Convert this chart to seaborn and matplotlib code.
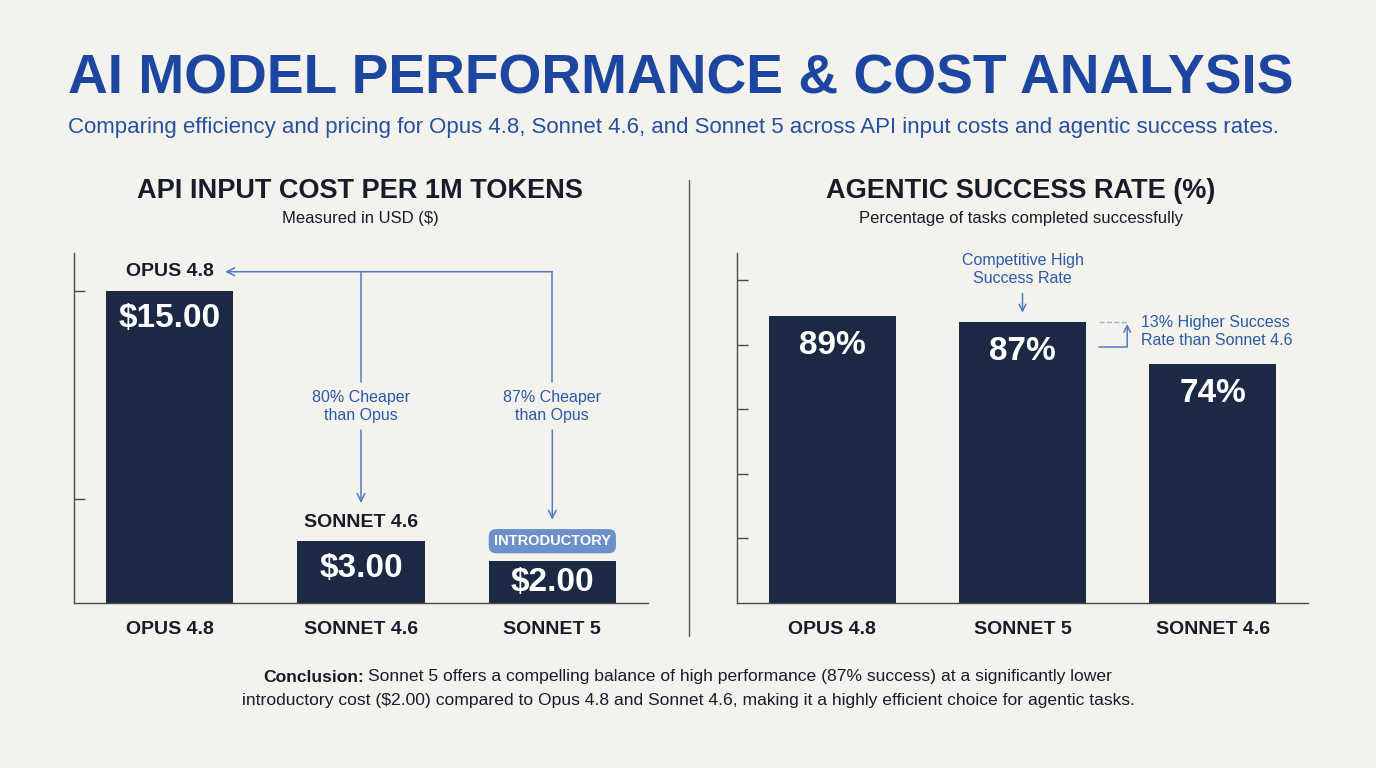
import numpy  as np
import pandas as pd

import matplotlib.pyplot as plt
import seaborn           as sns

# ================================================================================
# Data
# ================================================================================
cost_models  = ["OPUS 4.8", "SONNET 4.6", "SONNET 5"]
cost_usd     = [15.00, 3.00, 2.00]
cost_labels  = ["$15.00", "$3.00", "$2.00"]
cheaper_text = ["80% Cheaper\nthan Opus", "87% Cheaper\nthan Opus"]

rate_models  = ["OPUS 4.8", "SONNET 5", "SONNET 4.6"]
success_pct  = [89, 87, 74]
rate_labels  = ["89%", "87%", "74%"]

title    = "AI MODEL PERFORMANCE & COST ANALYSIS"
subtitle = ("Comparing efficiency and pricing for Opus 4.8, Sonnet 4.6, and Sonnet 5 "
            "across API input costs and agentic success rates.")
concl_b  = "Conclusion:"
concl_1  = "Sonnet 5 offers a compelling balance of high performance (87% success) at a significantly lower"
concl_2  = ("introductory cost ($2.00) compared to Opus 4.8 and Sonnet 4.6, "
            "making it a highly efficient choice for agentic tasks.")

# ================================================================================
# Style
# ================================================================================
BG     = "#f3f2ec"
NAVY   = "#1b2944"
BLUE   = "#1d46a0"
ACCENT = "#4f7cc2"
BADGE  = "#6d8fca"
INK    = "#171c2b"
SPINE  = "#4a4a4a"

sns.set_theme(style="white", rc={"axes.facecolor": BG, "figure.facecolor": BG})
plt.rcParams["font.family"] = ["Liberation Sans", "DejaVu Sans"]

W, H = 1376, 768
fig = plt.figure(figsize=(W / 100, H / 100), dpi=100)

def fx(px): return px / W
def fy(py): return 1 - py / H

# --------------------------------------------------------------------------------
# Header
# --------------------------------------------------------------------------------
fig.text(fx(68), fy(80), title, ha="left", va="center", fontsize=39.7,
         fontweight="bold", color=BLUE)
fig.text(fx(68), fy(127), subtitle, ha="left", va="center", fontsize=16, color="#24509f")

# Panel titles
fig.text(fx(360), fy(191), "API INPUT COST PER 1M TOKENS", ha="center", va="center",
         fontsize=19.5, fontweight="bold", color=INK)
fig.text(fx(360), fy(219), "Measured in USD ($)", ha="center", va="center",
         fontsize=12, color=INK)
fig.text(fx(1021), fy(191), "AGENTIC SUCCESS RATE (%)", ha="center", va="center",
         fontsize=19.5, fontweight="bold", color=INK)
fig.text(fx(1021), fy(219), "Percentage of tasks completed successfully", ha="center",
         va="center", fontsize=12, color=INK)

# Divider
fig.add_artist(plt.Line2D([fx(689), fx(689)], [fy(180), fy(636)], color="#555555", lw=1))

# ================================================================================
# Axes
# ================================================================================
ax1 = fig.add_axes([fx(74), fy(603), 574 / W, 350 / H])
ax2 = fig.add_axes([fx(737), fy(603), 571 / W, 350 / H])

df_cost = pd.DataFrame({"model": cost_models, "usd": cost_usd})
df_rate = pd.DataFrame({"model": rate_models, "pct": success_pct})

sns.barplot(data=df_cost, x="model", y="usd", color=NAVY, saturation=1, width=0.667,
            linewidth=0, ax=ax1)
sns.barplot(data=df_rate, x="model", y="pct", color=NAVY, saturation=1, width=0.667,
            linewidth=0, ax=ax2)

for ax, ymax, ticks in [(ax1, 16.8, [5, 15]), (ax2, 108.5, [20, 40, 60, 80, 100])]:
    ax.set_xlim(-0.5, 2.5)
    ax.set_ylim(0, ymax)
    ax.set_yticks(ticks)
    ax.set_yticklabels([])
    ax.set_xlabel("")
    ax.set_ylabel("")
    sns.despine(ax=ax)
    for s in ["left", "bottom"]:
        ax.spines[s].set_color(SPINE)
        ax.spines[s].set_linewidth(1)
    ax.tick_params(axis="y", direction="in", length=8, width=1, color=SPINE, left=True)
    ax.tick_params(axis="x", length=0, pad=13)
    for lab in ax.get_xticklabels():
        lab.set_fontsize(14)
        lab.set_fontweight("bold")
        lab.set_color(INK)

# --------------------------------------------------------------------------------
# Value labels inside bars
# --------------------------------------------------------------------------------
offs_cost = [-20.5, -20, -15]
for i, (v, lab) in enumerate(zip(cost_usd, cost_labels)):
    ax1.annotate(lab, (i, v), xytext=(0, offs_cost[i]), textcoords="offset points",
                 ha="center", va="center", fontsize=24, fontweight="bold", color="white")
for i, (v, lab) in enumerate(zip(success_pct, rate_labels)):
    ax2.annotate(lab, (i, v), xytext=(0, -21), textcoords="offset points",
                 ha="center", va="center", fontsize=24, fontweight="bold", color="white")

# --------------------------------------------------------------------------------
# Left chart callouts
# --------------------------------------------------------------------------------
ax1.annotate(cost_models[0], (0, cost_usd[0]), xytext=(0, 14), textcoords="offset points",
             ha="center", va="center", fontsize=14, fontweight="bold", color=INK)
ax1.annotate(cost_models[1], (1, cost_usd[1]), xytext=(0, 13), textcoords="offset points",
             ha="center", va="center", fontsize=14, fontweight="bold", color=INK)
ax1.annotate("INTRODUCTORY", (2, cost_usd[2]), xytext=(0, 14.5), textcoords="offset points",
             ha="center", va="center", fontsize=10.5, fontweight="bold", color="white",
             bbox=dict(boxstyle="round,pad=0.35,rounding_size=0.5", fc=BADGE, ec="none"))

y_top = 15.9
ax1.annotate("", xy=(0.29, y_top), xytext=(2.0, y_top),
             arrowprops=dict(arrowstyle="->", color=ACCENT, lw=1.1, mutation_scale=14,
                             shrinkA=0, shrinkB=0))
tips = [4.8, 4.0]
for k, x in enumerate([1, 2]):
    ax1.plot([x, x], [y_top, 10.6], color=ACCENT, lw=1.1)
    ax1.text(x, 9.45, cheaper_text[k], ha="center", va="center", fontsize=11.5,
             color="#2a5aa8", linespacing=1.25)
    ax1.annotate("", xy=(x, tips[k]), xytext=(x, 8.3),
                 arrowprops=dict(arrowstyle="->", color=ACCENT, lw=1.1, mutation_scale=14,
                                 shrinkA=0, shrinkB=0))

# --------------------------------------------------------------------------------
# Right chart callouts
# --------------------------------------------------------------------------------
ax2.annotate("Competitive High\nSuccess Rate", xy=(1, success_pct[1]), xytext=(0, 38),
             textcoords="offset points", ha="center", va="center", fontsize=11.5,
             color="#2a5aa8", linespacing=1.25,
             arrowprops=dict(arrowstyle="->", color=ACCENT, lw=1.1, mutation_scale=12,
                             shrinkA=3, shrinkB=7))

x0, x1 = 1.40, 1.55
ax2.plot([x0, x1], [success_pct[1], success_pct[1]], color="#9fb2d4", lw=1, ls="--")
ax2.plot([x0, x1], [79.5, 79.5], color=ACCENT, lw=1.1)
ax2.annotate("", xy=(x1, success_pct[1] - 0.5), xytext=(x1, 79.5),
             arrowprops=dict(arrowstyle="->", color=ACCENT, lw=1.1, mutation_scale=12,
                             shrinkA=0, shrinkB=0))
ax2.text(1.622, 84.2, "13% Higher Success\nRate than Sonnet 4.6", ha="left", va="center",
         fontsize=11.5, color="#2a5aa8", linespacing=1.25)

# ================================================================================
# Conclusion (mixed weight first line)
# ================================================================================
renderer = fig.canvas.get_renderer()
tb = fig.text(0, fy(677), concl_b, ha="left", va="center", fontsize=12.6,
              fontweight="bold", color=INK)
tr = fig.text(0, fy(677), concl_1, ha="left", va="center", fontsize=12.6, color=INK)
wb = tb.get_window_extent(renderer).width
wr = tr.get_window_extent(renderer).width
gap = 4
start = 688 - (wb + gap + wr) / 2
tb.set_x(fx(start))
tr.set_x(fx(start + wb + gap))
fig.text(fx(688), fy(700), concl_2, ha="center", va="center", fontsize=12.6, color=INK)

fig.savefig("out.png", dpi=100, facecolor=BG)
